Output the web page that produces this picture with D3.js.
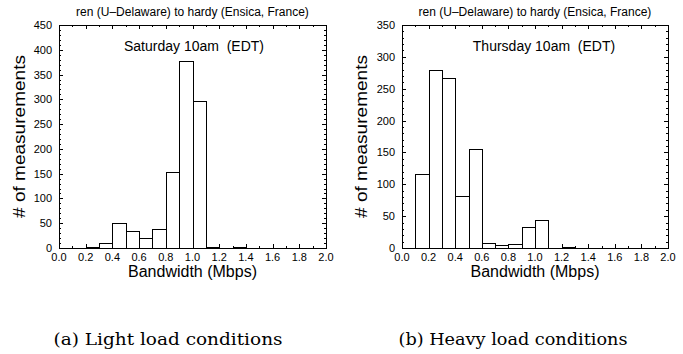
<!DOCTYPE html>
<html>
<head>
<meta charset="utf-8">
<script src="https://cdn.jsdelivr.net/npm/d3@7"></script>
<style>
  body { margin: 0; background: #fff; }
  svg text { font-family: "Liberation Sans", Arial, sans-serif; fill: #000; white-space: pre; }
  svg text.caption { font-family: "DejaVu Serif", "Liberation Serif", serif; }
</style>
</head>
<body>
<div id="chart"></div>
<script>
// histogram bins (Mbps), 0.1 wide
const binStarts = [0.0, 0.1, 0.2, 0.3, 0.4, 0.5, 0.6, 0.7, 0.8, 0.9, 1.0, 1.1, 1.2, 1.3, 1.4, 1.5, 1.6, 1.7, 1.8, 1.9];
const saturdayCounts = [0, 0, 2, 10, 51, 35, 21, 39, 154, 377, 296, 3, 0, 2, 0, 0, 1, 0, 0, 0];
const thursdayCounts = [0, 116, 280, 267, 81, 156, 8, 4, 6, 33, 44, 0, 2, 0, 0, 0, 0, 0, 0, 0];
const xTickLabels = ["0.0", "0.2", "0.4", "0.6", "0.8", "1.0", "1.2", "1.4", "1.6", "1.8", "2.0"];
const satYTicks = [0, 50, 100, 150, 200, 250, 300, 350, 400, 450];
const thuYTicks = [0, 50, 100, 150, 200, 250, 300, 350];

const W = 683, H = 354;
const svg = d3.select("#chart").append("svg")
  .attr("width", W).attr("height", H);

const panels = [
  { left: 59, right: 326, counts: saturdayCounts, yTicks: satYTicks, yMax: 450,
    label: "Saturday 10am  (EDT)", labX: 194, caption: "(a) Light load conditions", capX: 168, ylabX: 25 },
  { left: 402, right: 668, counts: thursdayCounts, yTicks: thuYTicks, yMax: 350,
    label: "Thursday 10am  (EDT)", labX: 544, caption: "(b) Heavy load conditions", capX: 513, ylabX: 367 }
];
const plotTop = 25, plotBottom = 248;

panels.forEach(p => {
  const x = d3.scaleLinear().domain([0, 2]).range([p.left, p.right]);
  const y = d3.scaleLinear().domain([0, p.yMax]).range([plotBottom, plotTop]);
  const g = svg.append("g");

  // bars
  const bins = binStarts.map((b, i) => ({ x0: b, x1: b + 0.1, n: p.counts[i] })).filter(d => d.n > 0);
  g.selectAll("rect").data(bins).enter().append("rect")
    .attr("x", d => Math.round(x(d.x0)) + 0.5)
    .attr("y", d => Math.round(y(d.n)) + 0.5)
    .attr("width", d => Math.round(x(d.x1)) - Math.round(x(d.x0)))
    .attr("height", d => plotBottom - Math.round(y(d.n)))
    .attr("fill", "#fff").attr("stroke", "#000").attr("stroke-width", 1);

  // ticks on all sides, pointing inward
  const xMinor = d3.range(0, 2.0001, 0.1);
  const yMinor = d3.range(0, p.yMax + 0.1, 10);
  const tickG = g.append("g").attr("stroke", "#000").attr("stroke-width", 1);
  xMinor.forEach((v, i) => {
    const len = i % 2 === 0 ? 4 : 2;
    const px = Math.round(x(v)) + 0.5;
    tickG.append("line").attr("x1", px).attr("x2", px).attr("y1", plotBottom).attr("y2", plotBottom - len);
    tickG.append("line").attr("x1", px).attr("x2", px).attr("y1", plotTop).attr("y2", plotTop + len);
  });
  yMinor.forEach(v => {
    const len = v % 50 === 0 ? 4 : 2;
    const py = Math.round(y(v)) + 0.5;
    tickG.append("line").attr("x1", p.left).attr("x2", p.left + len).attr("y1", py).attr("y2", py);
    tickG.append("line").attr("x1", p.right).attr("x2", p.right - len).attr("y1", py).attr("y2", py);
  });

  // frame
  g.append("rect")
    .attr("x", p.left + 0.5).attr("y", plotTop + 0.5)
    .attr("width", p.right - p.left).attr("height", plotBottom - plotTop)
    .attr("fill", "none").attr("stroke", "#000");

  // tick labels
  g.selectAll(".xl").data(xTickLabels).enter().append("text")
    .attr("x", d => x(+d)).attr("y", plotBottom + 13)
    .attr("text-anchor", "middle").attr("font-size", 11).text(d => d);
  g.selectAll(".yl").data(p.yTicks).enter().append("text")
    .attr("x", p.left - 7).attr("y", d => y(d) + 4)
    .attr("text-anchor", "end").attr("font-size", 11).text(d => d);

  // titles and labels
  g.append("text").attr("x", (p.left + p.right) / 2).attr("y", 16)
    .attr("text-anchor", "middle").attr("font-size", 12)
    .text("ren (U\u2013Delaware) to hardy (Ensica, France)");
  g.append("text").attr("x", p.labX).attr("y", 51)
    .attr("text-anchor", "middle").attr("font-size", 14).text(p.label);
  g.append("text").attr("x", (p.left + p.right) / 2).attr("y", 277)
    .attr("text-anchor", "middle").attr("font-size", 16)
    .attr("textLength", 129).attr("lengthAdjust", "spacingAndGlyphs")
    .text("Bandwidth (Mbps)");
  g.append("text")
    .attr("transform", "translate(" + p.ylabX + "," + (plotTop + plotBottom) / 2 + ") rotate(-90)")
    .attr("text-anchor", "middle").attr("font-size", 16)
    .attr("textLength", 163).attr("lengthAdjust", "spacingAndGlyphs")
    .text("# of measurements");
  g.append("text").attr("class", "caption")
    .attr("x", p.capX).attr("y", 345)
    .attr("text-anchor", "middle").attr("font-size", 17)
    .attr("textLength", 229).attr("lengthAdjust", "spacingAndGlyphs")
    .text(p.caption);
});
</script>
</body>
</html>
